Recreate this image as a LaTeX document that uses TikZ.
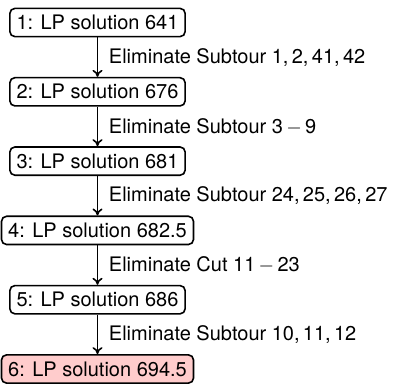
\documentclass[tikz,border=0pt]{standalone}
\usepackage{fontspec}
\setmainfont{TeX Gyre Heros}
\usetikzlibrary{arrows.meta}
\begin{document}
\begin{tikzpicture}[
  lp/.style={draw, line width=0.8pt, rounded corners=2.5pt, fill=white, font=\fontsize{10}{12}\selectfont},
  final/.style={lp, fill=red!20},
  arr/.style={-{To[length=3.5pt,width=5pt]}, line width=0.8pt},
  lab/.style={right=2pt, font=\fontsize{10}{12}\selectfont}
]
\useasboundingbox (0,0) rectangle (203.5pt,-193pt);
\node[lp] (n1) at (48.75pt,-11.25pt) {1: LP solution 641};
\node[lp] (n2) at (48.75pt,-45.9pt) {2: LP solution 676};
\node[lp] (n3) at (48.75pt,-80.55pt) {3: LP solution 681};
\node[lp] (n4) at (48.75pt,-115.2pt) {4: LP solution 682.5};
\node[lp] (n5) at (48.75pt,-149.85pt) {5: LP solution 686};
\node[final] (n6) at (48.75pt,-184.5pt) {6: LP solution 694.5};
\draw[arr] (n1) -- node[lab] (l1) {Eliminate Subtour 1,\,2,\,41,\,42} (n2);
\draw[arr] (n2) -- node[lab] (l2) {Eliminate Subtour 3\,$-$\,9} (n3);
\draw[arr] (n3) -- node[lab] (l3) {Eliminate Subtour 24,\,25,\,26,\,27} (n4);
\draw[arr] (n4) -- node[lab] (l4) {Eliminate Cut 11\,$-$\,23} (n5);
\draw[arr] (n5) -- node[lab] (l5) {Eliminate Subtour 10,\,11,\,12} (n6);
\end{tikzpicture}
\end{document}
